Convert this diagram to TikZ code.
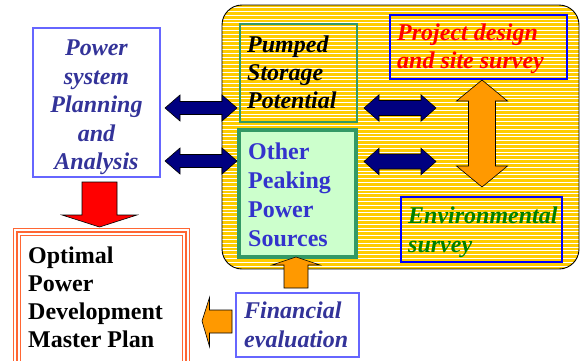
\documentclass[tikz,border=0pt]{standalone}
\usepackage{fontspec}
\setmainfont{Liberation Serif}
\newfontfamily\tnr{Liberation Serif}
\definecolor{goldy}{HTML}{FFCC00}
\definecolor{navyA}{HTML}{000080}
\definecolor{orangeA}{HTML}{FF9900}
\definecolor{lgreen}{HTML}{CCFFCC}
\definecolor{dgreen}{HTML}{339966}
\definecolor{txtblue}{HTML}{333399}
\definecolor{othblue}{HTML}{3333CC}
\definecolor{bblue}{HTML}{0000FF}
\definecolor{lblue}{HTML}{6666FF}
\definecolor{envgreen}{HTML}{008000}
\definecolor{optor}{HTML}{FF6633}
\newcommand\hdarrow[7]{% style, x1, x2, yc, shaft half, head half, head len
  \draw[#1] (#2,#4) -- ({#2+#7},{#4-#6}) -- ({#2+#7},{#4-#5}) -- ({#3-#7},{#4-#5})
    -- ({#3-#7},{#4-#6}) -- (#3,#4) -- ({#3-#7},{#4+#6}) -- ({#3-#7},{#4+#5})
    -- ({#2+#7},{#4+#5}) -- ({#2+#7},{#4+#6}) -- cycle;}
\newcommand\vdarrow[7]{% style, y1, y2, xc, shaft half, head half, head len
  \draw[#1] (#4,#2) -- ({#4+#6},{#2+#7}) -- ({#4+#5},{#2+#7}) -- ({#4+#5},{#3-#7})
    -- ({#4+#6},{#3-#7}) -- (#4,#3) -- ({#4-#6},{#3-#7}) -- ({#4-#5},{#3-#7})
    -- ({#4-#5},{#2+#7}) -- ({#4-#6},{#2+#7}) -- cycle;}
\begin{document}
\begin{tikzpicture}[x=1pt,y=-1pt,
  box/.style={draw, anchor=north west, inner sep=0pt, outer sep=0pt},
  txt/.style={inner sep=0pt},
  navyarrow/.style={fill=navyA, draw=black, line width=0.6pt},
  orarrow/.style={fill=orangeA, draw=black, line width=0.6pt},
  redarrow/.style={fill=red, draw=black, line width=0.6pt}]
\useasboundingbox (0,0) rectangle (581,360);
% main striped rounded box
\begin{scope}
  \path[clip, rounded corners=20pt] (222,5) rectangle (579,269);
  \fill[goldy] (222,5) rectangle (579,269);
  \foreach \i in {0,...,70} {\draw[white, line width=0.8pt] (222,{7.5+\i*3.8}) -- (579,{7.5+\i*3.8});}
\end{scope}
\node[box, draw=black, line width=0.9pt, rounded corners=20pt, minimum width=357pt, minimum height=264pt] (main) at (222,5) {};
% boxes
\node[box, draw=lblue, line width=1.2pt, minimum width=127pt, minimum height=149pt] (psys) at (33,28) {};
\node[box, draw=dgreen, line width=1.8pt, minimum width=117pt, minimum height=98pt] (pumped) at (240,24) {};
\node[box, draw=dgreen, fill=lgreen, line width=4pt, minimum width=117pt, minimum height=127pt] (other) at (239,130) {};
\node[box, draw=bblue, line width=2pt, minimum width=177pt, minimum height=64pt] (proj) at (390,15) {};
\node[box, draw=bblue, line width=2pt, minimum width=161pt, minimum height=65pt] (env) at (401,197) {};
\node[box, draw=lblue, line width=1.2pt, minimum width=123pt, minimum height=64pt] (fin) at (236,293) {};
\node[box, draw=optor, line width=1.7pt, minimum width=176pt, minimum height=150pt] (opt) at (13.5,228.5) {};
\node[box, draw=optor, line width=1.5pt, minimum width=169pt, minimum height=150pt] (optb) at (17,232) {};
\node[box, draw=optor, line width=1.5pt, minimum width=162pt, minimum height=150pt] (optc) at (20.5,235.5) {};
% texts
\node[txt, anchor=north, align=center, text=txtblue, font=\tnr\fontsize{24}{28.4}\selectfont\bfseries\itshape] (psyst) at (96.5,40) {Power\\system\\Planning\\and\\Analysis};
\node[txt, anchor=north west, align=left, text=black, font=\tnr\fontsize{24}{28}\selectfont\bfseries\itshape] (pumpedt) at (247,36) {Pumped\\Storage\\Potential};
\node[txt, anchor=north west, align=left, text=othblue, font=\tnr\fontsize{24}{28.8}\selectfont\bfseries] (othert) at (248,143) {Other\\Peaking\\Power\\Sources};
\node[txt, anchor=north west, align=left, text=red, font=\tnr\fontsize{24}{28}\selectfont\bfseries\itshape] (projt) at (397,24) {Project design\\and site survey};
\node[txt, anchor=north west, align=left, text=envgreen, font=\tnr\fontsize{24}{29}\selectfont\bfseries\itshape] (envt) at (408,207) {Environmental\\survey};
\node[txt, anchor=north west, align=left, text=txtblue, font=\tnr\fontsize{24}{29}\selectfont\bfseries\itshape] (fint) at (244,302) {Financial\\evaluation};
\node[txt, anchor=north west, align=left, text=black, font=\tnr\fontsize{24}{28}\selectfont\bfseries] (optt) at (28,247) {Optimal\\Power\\Development\\Master Plan};
% navy double arrows
\hdarrow{navyarrow}{165}{237}{108}{6.5}{13}{15}
\hdarrow{navyarrow}{165}{237}{161}{6.5}{13}{15}
\hdarrow{navyarrow}{364}{436}{108}{7.5}{13.2}{15}
\hdarrow{navyarrow}{364}{436}{161.5}{7.5}{13.2}{15}
% orange vertical double arrow
\vdarrow{orarrow}{80}{187}{482}{13.5}{25.5}{21}
% red down arrow
\draw[redarrow] (82,182) -- (117,182) -- (117,215) -- (137,215) -- (99.5,227) -- (62,215) -- (82,215) -- cycle;
% orange up arrow (financial -> other)
\draw[orarrow] (284,288) -- (284,265) -- (272,265) -- (296,257) -- (320,265) -- (308,265) -- (308,288) -- cycle;
% orange left arrow (financial -> optimal)
\draw[orarrow] (232,310) -- (209.5,310) -- (209.5,297.5) -- (202,321) -- (209.5,346.5) -- (209.5,333) -- (232,333) -- cycle;
\end{tikzpicture}
\end{document}
